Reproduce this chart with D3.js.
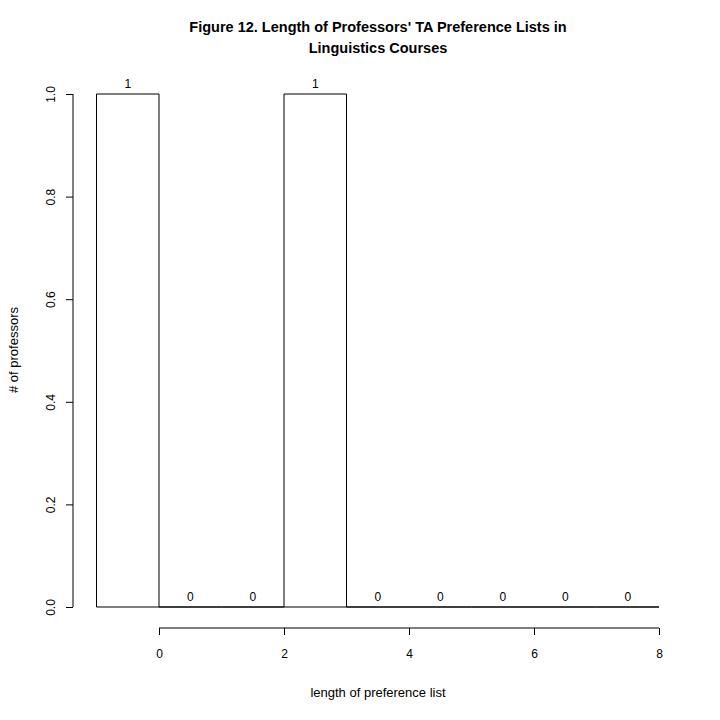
<!DOCTYPE html>
<html><head><meta charset="utf-8">
<script src="https://cdn.jsdelivr.net/npm/d3@7"></script>
<style>body{margin:0;background:#fff}text{font-family:"Liberation Sans",Arial,sans-serif;fill:#000}</style>
</head><body><svg id="c" width="720" height="720"></svg>
<script>
const binStarts=[-1,0,1,2,3,4,5,6,7];
const counts=[1,0,0,1,0,0,0,0,0];
const xTicks=[0,2,4,6,8];
const yTicks=[0,0.2,0.4,0.6,0.8,1.0];
const svg=d3.select("#c");
const x=d3.scaleLinear().domain([0,8]).range([159,659]);
const y=d3.scaleLinear().domain([0,1]).range([607,94]);
svg.selectAll("path.bar").data(binStarts).enter().append("path")
 .attr("d",(d,i)=>`M${x(d)},${y(0)}V${y(counts[i])}H${x(d+1)}V${y(0)}Z`)
 .attr("fill","none").attr("stroke","#000").attr("stroke-width",1);
svg.selectAll("text.lab").data(binStarts).enter().append("text")
 .attr("x",d=>x(d+0.5)).attr("y",(d,i)=>y(counts[i])-6).attr("text-anchor","middle")
 .attr("font-size",12).text((d,i)=>counts[i]);
const xa=svg.append("g").attr("transform","translate(0,628)").call(d3.axisBottom(x).tickValues(xTicks).tickSize(7).tickPadding(14).tickFormat(d3.format("d")));
const ya=svg.append("g").attr("transform","translate(73,0)").call(d3.axisLeft(y).tickValues(yTicks).tickSize(7).tickFormat(d3.format(".1f")));
[xa,ya].forEach(a=>{a.select(".domain").attr("d",null);a.selectAll("text").attr("font-size",12).attr("font-family","Liberation Sans, Arial");});
xa.append("line").attr("x1",x(0)).attr("x2",x(8)).attr("stroke","#000");
ya.append("line").attr("y1",y(0)).attr("y2",y(1)).attr("stroke","#000");
ya.selectAll(".tick text").attr("transform","rotate(-90)").attr("x",0).attr("y",-22).attr("dy","0.35em").attr("text-anchor","middle");
svg.append("text").attr("x",378).attr("y",32).attr("text-anchor","middle").attr("font-size",14.5).attr("font-weight","bold").text("Figure 12. Length of Professors' TA Preference Lists in");
svg.append("text").attr("x",378).attr("y",53).attr("text-anchor","middle").attr("font-size",14.5).attr("font-weight","bold").text("Linguistics Courses");
svg.append("text").attr("x",378).attr("y",697).attr("text-anchor","middle").attr("font-size",13).text("length of preference list");
svg.append("text").attr("transform","translate(18,350) rotate(-90)").attr("text-anchor","middle").attr("font-size",13).text("# of professors");
</script></body></html>
